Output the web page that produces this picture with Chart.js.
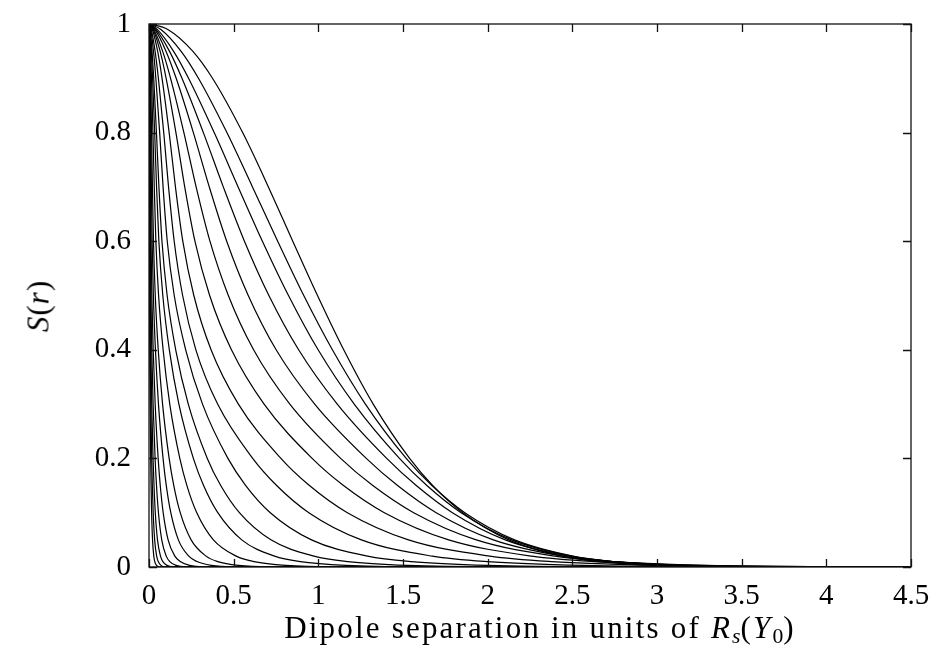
<!DOCTYPE html>
<html>
<head>
<meta charset="utf-8">
<script src="https://cdn.jsdelivr.net/npm/chart.js@4.4.1/dist/chart.umd.min.js"></script>
<style>
  html, body { margin: 0; padding: 0; background: #fff; }
  #wrap { position: relative; width: 939px; height: 660px; }
  #plot { position: absolute; left: 0; top: 0; }
  .axis-title { position: absolute; font-family: "Liberation Serif", serif; color: #000; white-space: nowrap; line-height: 1; }
  #xtitle { left: 540px; top: 612px; font-size: 31px; letter-spacing: 2.2px; transform: translateX(-50%); }
  #ytitle { left: 38px; top: 306px; font-size: 31px; letter-spacing: 1px; transform: translate(-50%, -50%) rotate(-90deg); }
  sub { font-size: 0.7em; vertical-align: -0.25em; line-height: 0; letter-spacing: 0; }
</style>
</head>
<body>
<div id="wrap">
  <canvas id="plot" width="939" height="660"></canvas>
  <div id="xtitle" class="axis-title">Dipole separation in units of <i>R<sub>s</sub></i>(<i>Y</i><sub>0</sub>)</div>
  <div id="ytitle" class="axis-title"><i>S</i>(<i>r</i>)</div>
</div>
<script>
// S(r) levels shared by every curve; each curve lists the separation r where it reaches that level
const levels = [1, 0.99, 0.95, 0.9, 0.8, 0.7, 0.6, 0.5, 0.4, 0.3, 0.2, 0.15, 0.1, 0.05, 0.02, 0.01, 0.003, 0.0005, 0];

const r01 = [0, 0.111, 0.258, 0.375, 0.553, 0.705, 0.849, 0.995, 1.150, 1.324, 1.539, 1.676, 1.853, 2.124, 2.439, 2.654, 2.993, 3.441, 4.5];
const r02 = [0, 0.0703, 0.1888, 0.292, 0.46, 0.611, 0.760, 0.914, 1.083, 1.278, 1.519, 1.671, 1.865, 2.159, 2.504, 2.741, 3.119, 3.621, 4.5];
const r03 = [0, 0.0487, 0.1445, 0.2335, 0.385, 0.5263, 0.6697, 0.8237, 0.9987, 1.212, 1.479, 1.641, 1.843, 2.142, 2.495, 2.739, 3.128, 3.647, 4.5];
const r04 = [0, 0.0406, 0.1205, 0.1947, 0.321, 0.4388, 0.5636, 0.708, 0.8836, 1.1118, 1.4038, 1.5783, 1.7918, 2.1038, 2.4755, 2.7345, 3.1504, 3.7118, 4.5];
const r05 = [0, 0.0345, 0.1002, 0.1605, 0.262, 0.356, 0.4589, 0.5861, 0.7508, 0.9785, 1.2832, 1.4679, 1.696, 2.0335, 2.4443, 2.7356, 3.2105, 3.8645, 4.5];
const r06 = [0, 0.0282, 0.0803, 0.1274, 0.206, 0.2782, 0.3599, 0.4685, 0.6177, 0.8316, 1.1318, 1.3216, 1.5631, 1.9327, 2.3968, 2.734, 3.2972, 4.0958, 4.5];
const r07 = [0, 0.0246, 0.0656, 0.1012, 0.159, 0.2109, 0.2712, 0.3582, 0.4869, 0.6797, 0.9635, 1.1487, 1.3899, 1.7695, 2.2603, 2.6254, 3.2487, 4.1577, 4.5];
const r08 = [0, 0.0198, 0.0509, 0.0771, 0.119, 0.1561, 0.1995, 0.2648, 0.3665, 0.5279, 0.7789, 0.9474, 1.1714, 1.5323, 2.0118, 2.3763, 3.0115, 3.9625, 4.5];
const r09 = [0, 0.01345, 0.0359, 0.0554, 0.087, 0.1154, 0.1488, 0.1986, 0.2768, 0.4053, 0.6124, 0.7537, 0.9437, 1.2543, 1.6736, 1.9964, 2.566, 3.4318, 4.5];
const r10 = [0, 0.01006, 0.0264, 0.0404, 0.063, 0.0831, 0.1078, 0.149, 0.2166, 0.316, 0.4661, 0.5713, 0.7163, 0.9596, 1.2907, 1.5473, 2.0027, 2.7, 4.5];
const r11 = [0, 0.00665, 0.01796, 0.02785, 0.044, 0.05857, 0.07658, 0.1072, 0.1577, 0.232, 0.3443, 0.4236, 0.5338, 0.7199, 0.9749, 1.1736, 1.528, 2.0741, 4.5];
const r12 = [0, 0.00506, 0.01367, 0.02119, 0.03348, 0.04457, 0.05827, 0.08159, 0.12, 0.1765, 0.262, 0.3223, 0.4062, 0.5478, 0.7419, 0.8931, 1.1628, 1.5783, 4.5];
const r13 = [0, 0.00351, 0.00949, 0.01472, 0.02326, 0.03096, 0.04048, 0.05667, 0.08336, 0.1226, 0.182, 0.2239, 0.2822, 0.3805, 0.5154, 0.6204, 0.8077, 1.0964, 4.5];
const r14 = [0, 0.0023, 0.00621, 0.00963, 0.01521, 0.02024, 0.02647, 0.03706, 0.0545, 0.08018, 0.119, 0.1464, 0.1845, 0.2488, 0.337, 0.4056, 0.5281, 0.7169, 4.5];
const r15 = [0, 0.0016, 0.00433, 0.00671, 0.01061, 0.01412, 0.01846, 0.02585, 0.03801, 0.05593, 0.083, 0.1021, 0.1287, 0.1735, 0.235, 0.2829, 0.3684, 0.5, 4.5];
const r16 = [0, 0.00104, 0.00282, 0.00437, 0.0069, 0.00919, 0.01201, 0.01682, 0.02473, 0.03639, 0.054, 0.06644, 0.08372, 0.1129, 0.1529, 0.1841, 0.2397, 0.3253, 4.5];
const r17 = [0, 0.0007, 0.00188, 0.00291, 0.0046, 0.00612, 0.00801, 0.01121, 0.01649, 0.02426, 0.036, 0.04429, 0.05581, 0.07527, 0.1019, 0.1227, 0.1598, 0.2169, 4.5];
const r18 = [0, 0.00046, 0.00125, 0.00194, 0.00307, 0.00408, 0.00534, 0.00747, 0.01099, 0.01617, 0.024, 0.02953, 0.03721, 0.05018, 0.06796, 0.08181, 0.1065, 0.1446, 4.5];
const r19 = [0, 0.00031, 0.00083, 0.00129, 0.00204, 0.00272, 0.00356, 0.00498, 0.00733, 0.01078, 0.016, 0.01968, 0.02481, 0.03345, 0.04531, 0.05454, 0.07101, 0.09638, 4.5];
const r20 = [0, 0.00019, 0.00052, 0.00081, 0.00128, 0.0017, 0.00222, 0.00311, 0.00458, 0.00674, 0.01, 0.0123, 0.0155, 0.02091, 0.02832, 0.03409, 0.04438, 0.06024, 4.5];

const curves = [r01, r02, r03, r04, r05, r06, r07, r08, r09, r10,
                r11, r12, r13, r14, r15, r16, r17, r18, r19, r20];

const xTickValues = [0, 0.5, 1, 1.5, 2, 2.5, 3, 3.5, 4, 4.5];
const xTickLabels = ['0', '0.5', '1', '1.5', '2', '2.5', '3', '3.5', '4', '4.5'];
const yTickValues = [0, 0.2, 0.4, 0.6, 0.8, 1];
const yTickLabels = ['0', '0.2', '0.4', '0.6', '0.8', '1'];

const FONT = '"Liberation Serif", "Times New Roman", serif';

const datasets = curves.map((rs, k) => ({
  label: 'S' + (k + 1),
  data: rs.map((r, i) => ({ x: r, y: levels[i] })),
  borderColor: '#000',
  borderWidth: 1.2,
  pointRadius: 0,
  fill: false,
  cubicInterpolationMode: 'monotone'
}));

// box frame with inward ticks on all four sides
const framePlugin = {
  id: 'frame',
  afterDatasetsDraw(chart) {
    const { ctx, chartArea: a, scales } = chart;
    const len = 8;
    ctx.save();
    ctx.strokeStyle = '#111';
    ctx.lineWidth = 1.3;
    ctx.strokeRect(a.left, a.top, a.right - a.left, a.bottom - a.top);
    ctx.beginPath();
    xTickValues.forEach(v => {
      const px = Math.round(scales.x.getPixelForValue(v)) + 0.5;
      ctx.moveTo(px, a.bottom); ctx.lineTo(px, a.bottom - len);
      ctx.moveTo(px, a.top); ctx.lineTo(px, a.top + len);
    });
    yTickValues.forEach(v => {
      const py = Math.round(scales.y.getPixelForValue(v)) + 0.5;
      ctx.moveTo(a.left, py); ctx.lineTo(a.left + len, py);
      ctx.moveTo(a.right, py); ctx.lineTo(a.right - len, py);
    });
    ctx.stroke();
    ctx.restore();
  }
};

new Chart(document.getElementById('plot'), {
  type: 'line',
  data: { datasets },
  plugins: [framePlugin],
  options: {
    responsive: false,
    animation: false,
    events: [],
    layout: { padding: { top: 24, right: 28, left: 0, bottom: 0 } },
    plugins: { legend: { display: false }, tooltip: { enabled: false } },
    scales: {
      x: {
        type: 'linear', min: 0, max: 4.5,
        afterBuildTicks(scale) { scale.ticks = xTickValues.map(v => ({ value: v })); },
        afterFit(scale) { scale.height = 93; scale.paddingLeft = 0; scale.paddingRight = 0; },
        grid: { display: false, drawTicks: false },
        border: { display: false },
        ticks: {
          padding: 12,
          color: '#000',
          font: { family: FONT, size: 29 },
          maxRotation: 0,
          callback: (v, i) => xTickLabels[i]
        }
      },
      y: {
        type: 'linear', min: 0, max: 1,
        afterBuildTicks(scale) { scale.ticks = yTickValues.map(v => ({ value: v })); },
        afterFit(scale) { scale.width = 149; scale.paddingTop = 0; scale.paddingBottom = 0; },
        grid: { display: false, drawTicks: false },
        border: { display: false },
        ticks: {
          padding: 18,
          color: '#000',
          font: { family: FONT, size: 29 },
          callback: (v, i) => yTickLabels[i]
        }
      }
    }
  }
});
</script>
</body>
</html>
